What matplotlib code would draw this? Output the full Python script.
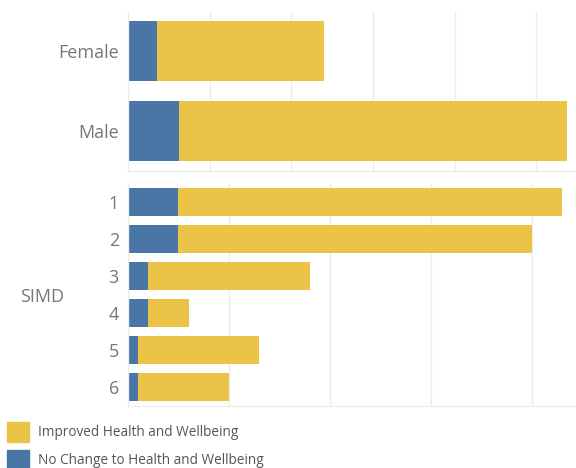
import matplotlib
matplotlib.use("Agg")
import matplotlib.pyplot as plt
from matplotlib.patches import Rectangle

# Data
gender_labels = ["Female", "Male"]
gender_no_change = [7, 12.5]
gender_improved = [41, 95]

simd_labels = ["1", "2", "3", "4", "5", "6"]
simd_no_change = [5, 5, 2, 2, 1, 1]
simd_improved = [38, 35, 16, 4, 12, 9]

legend_labels = ["Improved Health and Wellbeing", "No Change to Health and Wellbeing"]

YELLOW = "#EBC447"
BLUE = "#4A76A5"
GRID = "#EDEDED"
TXT = "#777777"

W, H = 576, 468
fig = plt.figure(figsize=(W / 100, H / 100), dpi=100)
plt.rcParams['font.family'] = ['Open Sans', 'DejaVu Sans']

def ax_px(left, top, right, bottom):
    return fig.add_axes([left / W, 1 - bottom / H, (right - left) / W, (bottom - top) / H])

ax1 = ax_px(128, 11.5, 576, 171)
ax2 = ax_px(128, 183.5, 576, 405.5)

def style(ax, xmax, step):
    ax.set_xlim(0, xmax)
    ax.set_xticks(range(0, int(xmax) + 1, step))
    ax.xaxis.grid(True, color=GRID, linewidth=1)
    ax.set_axisbelow(True)
    ax.tick_params(axis="x", bottom=False, labelbottom=False)
    ax.tick_params(axis="y", left=False, labelsize=13, labelcolor=TXT, pad=3)
    for s in ["top", "right"]:
        ax.spines[s].set_visible(False)
    for s in ["left", "bottom"]:
        ax.spines[s].set_color(GRID)
        ax.spines[s].set_linewidth(1)

# Top pane
y1 = list(range(len(gender_labels)))
ax1.barh(y1, gender_no_change, height=0.75, color=BLUE)
ax1.barh(y1, gender_improved, left=gender_no_change, height=0.75, color=YELLOW)
ax1.set_yticks(y1)
ax1.set_yticklabels(gender_labels)
ax1.set_ylim(len(gender_labels) - 0.5, -0.5)
style(ax1, 109.7, 20)

# Bottom pane
y2 = list(range(len(simd_labels)))
ax2.barh(y2, simd_no_change, height=0.76, color=BLUE)
ax2.barh(y2, simd_improved, left=simd_no_change, height=0.76, color=YELLOW)
ax2.set_yticks(y2)
ax2.set_yticklabels(simd_labels)
ax2.set_ylim(len(simd_labels) - 0.5, -0.5)
style(ax2, 44.4, 10)

fig.text(20 / W, 1 - 297 / H, "SIMD", fontsize=13, color=TXT, va="center", ha="left")

# Legend
for i, (lab, col) in enumerate(zip(legend_labels, [YELLOW, BLUE])):
    top = 422 + i * 28
    fig.patches.append(Rectangle((7 / W, 1 - (top + 20) / H), 22 / W, 20 / H,
                                 transform=fig.transFigure, color=col))
    fig.text(38 / W, 1 - (top + 11) / H, lab, fontsize=9.8, color="#555555",
             va="center", ha="left")

fig.savefig("out.png", dpi=100)
